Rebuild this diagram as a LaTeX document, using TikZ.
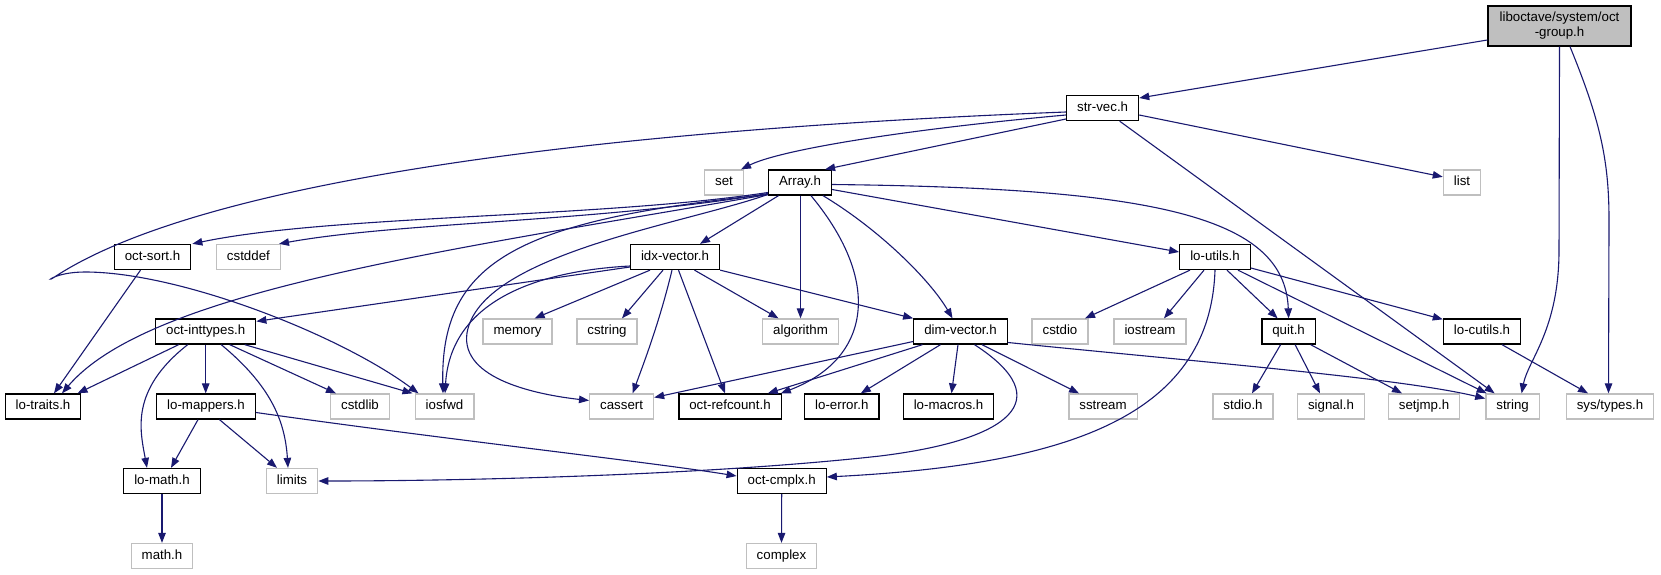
\documentclass[tikz,border=0pt]{standalone}
\usepackage{fontspec}
\setmainfont{Liberation Sans}
\usetikzlibrary{arrows.meta}
\definecolor{edgeblue}{HTML}{191970}
\definecolor{greyseventyfive}{HTML}{BFBFBF}
\begin{document}
\begin{tikzpicture}[x=1pt,y=-1pt,
  box/.style={rectangle, line width=1.3pt, minimum height=25pt, inner xsep=10.5pt, inner ysep=0pt,
    text height=9.6pt, text depth=2.8pt, font=\fontsize{13.3}{15}\selectfont},
  doc/.style={box, draw=black, fill=white},
  ext/.style={box, draw=greyseventyfive, fill=white},
  dep/.style={draw=edgeblue, line width=1.1pt, -{Triangle[length=10pt,width=7.5pt]}, fill=none}]
\fill[white] (0,0) rectangle (1661,575);
\useasboundingbox (0,0) rectangle (1661,575);

% nodes
\node[doc, fill=greyseventyfive, minimum width=143pt, minimum height=40pt, align=center, text height=, text depth=, inner ysep=2pt] (grp) at (1559.5,26) {liboctave/system/oct\\-group.h};
\node[doc] (strvec) at (1102.6,108) {str-vec.h};
\node[ext] (set) at (724,182.5) {set};
\node[doc] (array) at (800,182.5) {Array.h};
\node[ext] (list) at (1462,182.5) {list};
\node[doc] (octsort) at (152.5,257) {oct-sort.h};
\node[ext] (cstddef) at (248.4,257) {cstddef};
\node[doc] (idx) at (675,257) {idx-vector.h};
\node[doc] (loutils) at (1215,257) {lo-utils.h};
\node[doc] (inttypes) at (205.7,331.5) {oct-inttypes.h};
\node[ext] (memory) at (517.6,331.5) {memory};
\node[ext] (cstring) at (607,331.5) {cstring};
\node[ext] (algorithm) at (800.5,331.5) {algorithm};
\node[doc] (dimvec) at (960.5,331.5) {dim-vector.h};
\node[ext] (cstdio) at (1060,331.5) {cstdio};
\node[ext] (iostream) at (1150,331.5) {iostream};
\node[doc] (quit) at (1288.6,331.5) {quit.h};
\node[doc] (locutils) at (1482,331.5) {lo-cutils.h};
\node[doc] (lotraits) at (43,406.5) {lo-traits.h};
\node[doc] (lomappers) at (206,406.5) {lo-mappers.h};
\node[ext] (cstdlib) at (360,406.5) {cstdlib};
\node[ext] (iosfwd) at (444.5,406.5) {iosfwd};
\node[ext] (cassert) at (621.6,406.5) {cassert};
\node[doc] (refcount) at (730,406.5) {oct-refcount.h};
\node[doc] (loerror) at (841.8,406.5) {lo-error.h};
\node[doc] (lomacros) at (948.5,406.5) {lo-macros.h};
\node[ext] (sstream) at (1103,406.5) {sstream};
\node[ext] (stdioh) at (1243,406.5) {stdio.h};
\node[ext] (signalh) at (1331,406.5) {signal.h};
\node[ext] (setjmp) at (1424,406.5) {setjmp.h};
\node[ext] (string) at (1512.6,406.5) {string};
\node[ext] (systypes) at (1610,406.5) {sys/types.h};
\node[doc] (lomath) at (162,481) {lo-math.h};
\node[ext] (limits) at (292,481) {limits};
\node[doc] (cmplx) at (781.7,481) {oct-cmplx.h};
\node[ext] (mathh) at (162,556) {math.h};
\node[ext] (complex) at (781.5,556) {complex};

% oct-group.h
\draw[dep] ([yshift=-14pt]grp.west) -- ([yshift=10pt]strvec.east);
\draw[dep] (grp.south) -- (1559,250) .. controls (1559,330) and (1528,360) .. ([xshift=9pt]string.north);
\draw[dep] ([xshift=10.5pt]grp.south) .. controls (1600,120) and (1609,160) .. (1609,220) -- ([xshift=-1.5pt]systypes.north);

% str-vec.h
\draw[dep] ([yshift=-7pt]strvec.west) .. controls (900,130) and (780,150) .. ([xshift=-3pt]set.north east);
\draw[dep] ([yshift=-11pt]strvec.west) -- ([xshift=-7pt]array.north east);
\draw[dep] ([yshift=-4pt]strvec.west) .. controls (600,130) and (200,180) .. (53,278)
   .. controls (45,283) and (55,272) .. (85,272)
   .. controls (180,272) and (340,335) .. ([xshift=-26pt]iosfwd.north);
\draw[dep] ([xshift=17pt]strvec.south) -- ([xshift=-18pt]string.north);
\draw[dep] ([yshift=-7pt]strvec.east) -- ([yshift=-7.5pt]list.north west);

% Array.h
\draw[dep] ([yshift=-10pt]array.west) .. controls (600,218) and (330,215) .. ([xshift=1pt]octsort.north east);
\draw[dep] ([yshift=-11pt]array.west) .. controls (600,222) and (400,222) .. ([xshift=-2pt]cstddef.north east);
\draw[dep] ([yshift=-12pt]array.west) .. controls (450,250) and (150,290) .. ([xshift=19pt]lotraits.north);
\draw[dep] ([yshift=-12pt]array.west) .. controls (520,220) and (440,260) .. ([xshift=-1.5pt]iosfwd.north);
\draw[dep] ([yshift=-12pt]array.west) .. controls (680,225) and (480,255) .. (467,333)
   .. controls (460,380) and (540,395) .. ([yshift=6pt]cassert.west);
\draw[dep] ([xshift=-21.5pt]array.south) -- ([xshift=25pt]idx.north);
\draw[dep] ([xshift=0.5pt]array.south) -- (algorithm.north);
\draw[dep] ([xshift=11pt]array.south) .. controls (885,285) and (868,360) .. ([xshift=-1pt]refcount.north east);
\draw[dep] ([xshift=23pt]array.south) .. controls (880,230) and (930,280) .. ([xshift=-8pt]dimvec.north);
\draw[dep] ([yshift=-7pt]array.east) -- ([yshift=5pt]loutils.west);
\draw[dep] ([yshift=-2pt]array.east) .. controls (1150,188) and (1285,215) .. (quit.north);

% oct-sort.h
\draw[dep] ([xshift=-12pt]octsort.south) -- ([xshift=11pt]lotraits.north);

% idx-vector.h
\draw[dep] ([yshift=-10pt]idx.west) -- ([yshift=-3pt]inttypes.north east);
\draw[dep] ([yshift=-9pt]idx.west) .. controls (520,272) and (450,310) .. ([xshift=0.5pt]iosfwd.north);
\draw[dep] ([xshift=-25pt]idx.south) -- ([xshift=17pt]memory.north);
\draw[dep] ([xshift=-12pt]idx.south) -- ([xshift=15pt]cstring.north);
\draw[dep] ([xshift=-3pt]idx.south) .. controls (660,320) and (645,360) .. ([xshift=11pt]cassert.north);
\draw[dep] ([xshift=3.5pt]idx.south) -- ([xshift=-5pt]refcount.north);
\draw[dep] ([xshift=19.5pt]idx.south) -- ([xshift=-22pt]algorithm.north);
\draw[dep] (idx.south east) -- (dimvec.north west);

% lo-utils.h
\draw[dep] ([xshift=-25pt]loutils.south) -- ([xshift=25pt]cstdio.north);
\draw[dep] ([xshift=-11pt]loutils.south) -- ([xshift=14pt]iostream.north);
\draw[dep] (loutils.south) .. controls (1210,420) and (1060,465) .. ([yshift=4pt]cmplx.east);
\draw[dep] ([xshift=12pt]loutils.south) -- ([xshift=-11pt]quit.north);
\draw[dep] ([xshift=23pt]loutils.south) -- ([xshift=-26pt]string.north);
\draw[dep] ([yshift=-11pt]loutils.east) -- ([yshift=-1pt]locutils.north west);

% dim-vector.h
\draw[dep] ([yshift=-10pt]dimvec.west) -- ([yshift=9pt]cassert.east);
\draw[dep] ([xshift=-38pt]dimvec.south) -- ([xshift=-14pt]refcount.north east);
\draw[dep] ([xshift=-20pt]dimvec.south) -- ([xshift=19pt]loerror.north);
\draw[dep] ([xshift=-2.5pt]dimvec.south) -- ([xshift=3pt]lomacros.north);
\draw[dep] ([xshift=14pt]dimvec.south) .. controls (1060,400) and (1010,440) .. (880,456)
   .. controls (700,476) and (450,481) .. (limits.east);
\draw[dep] ([xshift=21.5pt]dimvec.south) -- ([xshift=-24pt]sstream.north);
\draw[dep] ([yshift=-11pt]dimvec.east) .. controls (1200,362) and (1400,378) .. ([yshift=8pt]string.west);

% quit.h
\draw[dep] ([xshift=-8pt]quit.south) -- ([xshift=9pt]stdioh.north);
\draw[dep] ([xshift=6.5pt]quit.south) -- ([xshift=-11pt]signalh.north);
\draw[dep] ([xshift=22pt]quit.south) -- ([xshift=-22pt]setjmp.north);

% lo-cutils.h
\draw[dep] ([xshift=20pt]locutils.south) -- ([xshift=-22pt]systypes.north);

% oct-inttypes.h
\draw[dep] ([xshift=-27pt]inttypes.south) -- ([xshift=-4pt]lotraits.north east);
\draw[dep] ([xshift=-18pt]inttypes.south) .. controls (130,390) and (140,430) .. ([xshift=-15pt]lomath.north);
\draw[dep] (inttypes.south) -- ([xshift=-0.3pt]lomappers.north);
\draw[dep] ([xshift=15.5pt]inttypes.south) .. controls (270,385) and (285,420) .. ([xshift=-4pt]limits.north);
\draw[dep] ([xshift=24pt]inttypes.south) -- ([xshift=-24pt]cstdlib.north);
\draw[dep] ([xshift=39pt]inttypes.south) -- ([xshift=-2pt]iosfwd.north west);

% lo-mappers.h
\draw[dep] ([xshift=-8pt]lomappers.south) -- ([xshift=9pt]lomath.north);
\draw[dep] ([xshift=13.5pt]lomappers.south) -- ([xshift=-15pt]limits.north);
\draw[dep] ([yshift=-6pt]lomappers.east) .. controls (450,440) and (650,462) .. ([yshift=5pt]cmplx.west);

% bottom
\draw[dep] (lomath.south) -- (mathh.north);
\draw[dep] (cmplx.south) -- (complex.north);
\end{tikzpicture}
\end{document}
